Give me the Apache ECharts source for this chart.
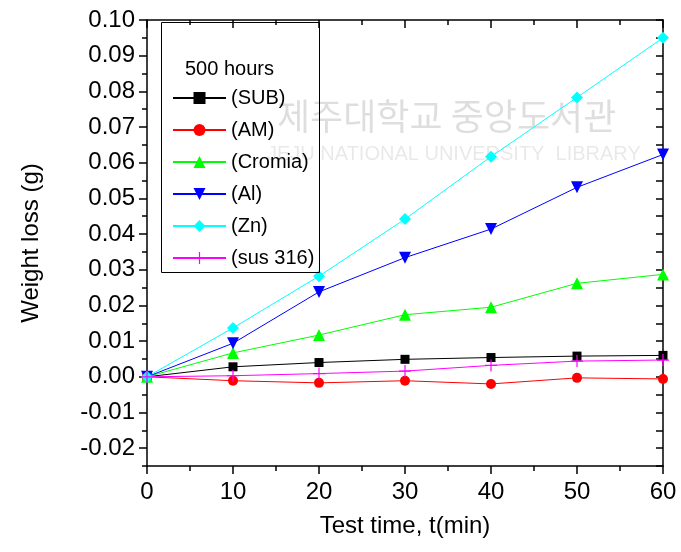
<!DOCTYPE html>
<html>
<head>
<meta charset="utf-8">
<script src="https://cdn.jsdelivr.net/npm/echarts@6/dist/echarts.min.js"></script>
<style>
  html, body { margin: 0; padding: 0; background: #fff; }
  #myChart { width: 681px; height: 552px; }
</style>
</head>
<body>
<div id="myChart"></div>
<script>
// test time (min)
const times = [0, 10, 20, 30, 40, 50, 60]
// weight loss (g)
const sub    = [0, 0.0028, 0.0040, 0.0049, 0.0054, 0.0058, 0.0060]
const am     = [0, -0.0011, -0.0017, -0.0011, -0.0020, -0.0003, -0.0006]
const cromia = [0, 0.0067, 0.0117, 0.0174, 0.0195, 0.0262, 0.0287]
const al     = [0, 0.0094, 0.0238, 0.0334, 0.0414, 0.0531, 0.0623]
const zn     = [0, 0.0137, 0.0282, 0.0442, 0.0617, 0.0783, 0.0950]
const sus316 = [0, 0.0003, 0.0009, 0.0016, 0.0032, 0.0044, 0.0047]
const yLabels = [-0.02, -0.01, 0, 0.01, 0.02, 0.03, 0.04, 0.05, 0.06, 0.07, 0.08, 0.09, 0.10]

const font = 'Liberation Sans, Arial, sans-serif'
const plus = 'path://M4.5,0H5.5V4.5H10V5.5H5.5V10H4.5V5.5H0V4.5H4.5Z'

function pairs(vals) {
    return times.map((t, i) => [t, vals[i]])
}

function mk(name, vals, color, symbol, size, rotate) {
    return {
        name: name,
        type: 'line',
        data: pairs(vals),
        symbol: symbol,
        symbolSize: size,
        symbolRotate: rotate || 0,
        showSymbol: true,
        lineStyle: { color: color, width: 1 },
        itemStyle: { color: color },
        animation: false
    }
}

const blackAxis = { show: true, onZero: false, lineStyle: { color: '#000', width: 1.5 } }

let myChart = echarts.init(document.getElementById('myChart'))
myChart.setOption({
    backgroundColor: '#fff',
    animation: false,
    textStyle: { fontFamily: font },
    grid: { left: 147, right: 18, top: 20, bottom: 86 },
    graphic: [
        {
            type: 'text', left: 277, top: 98, z: 0, silent: true,
            style: { text: '제주대학교 중앙도서관', font: '36px "Noto Sans CJK KR"', fill: 'rgba(0,0,0,0.13)' }
        },
        {
            type: 'text', left: 267, top: 144, z: 0, silent: true,
            style: { text: 'JEJU NATIONAL UNIVERSITY  LIBRARY', font: '20px ' + font, fill: 'rgba(0,0,0,0.09)' }
        },
        {
            type: 'rect', left: 159, top: 20, z: 5, silent: true,
            shape: { width: 158, height: 250 },
            style: { fill: null, stroke: '#000', lineWidth: 1 }
        },
        {
            type: 'text', left: 185, top: 59, z: 5,
            style: { text: '500 hours', font: '20px ' + font, fill: '#000' }
        }
    ],
    legend: {
        orient: 'vertical',
        left: 172,
        top: 88,
        padding: 0,
        itemWidth: 53,
        itemHeight: 15,
        itemGap: 12,
        textStyle: { fontSize: 20, color: '#000', fontFamily: font },
        data: ['(SUB)', '(AM)', '(Cromia)', '(Al)', '(Zn)', '(sus 316)']
    },
    xAxis: [
        {
            type: 'value', position: 'bottom', min: 0, max: 60, interval: 10,
            name: 'Test time, t(min)', nameLocation: 'middle', nameGap: 48,
            nameTextStyle: { fontSize: 24, color: '#000', fontFamily: font },
            axisLine: blackAxis,
            axisTick: { show: true, inside: false, length: 8, lineStyle: { color: '#000', width: 1.5 } },
            minorTick: { show: true, splitNumber: 2, length: 5, lineStyle: { color: '#000', width: 1.5 } },
            axisLabel: { fontSize: 24, color: '#000', margin: 14, fontFamily: font },
            splitLine: { show: false }
        },
        {
            type: 'value', position: 'top', min: 0, max: 60, interval: 10,
            axisLine: blackAxis,
            axisTick: { show: true, inside: true, length: 8, lineStyle: { color: '#000', width: 1.5 } },
            minorTick: { show: true, splitNumber: 2, length: 5, lineStyle: { color: '#000', width: 1.5 } },
            axisLabel: { show: false },
            splitLine: { show: false }
        }
    ],
    yAxis: [
        {
            type: 'value', position: 'left', min: -0.025, max: 0.1, interval: 0.005,
            name: 'Weight loss (g)', nameLocation: 'middle', nameGap: 104, nameRotate: 90,
            nameTextStyle: { fontSize: 24, color: '#000', fontFamily: font },
            axisLine: blackAxis,
            axisTick: { show: true, inside: false, length: 5, lineStyle: { color: '#000', width: 1.5 } },
            axisLabel: {
                fontSize: 24, color: '#000', margin: 12, fontFamily: font,
                formatter: function (v) {
                    let k = Math.round(v * 1000)
                    return k % 10 === 0 ? (k / 1000).toFixed(2) : ''
                }
            },
            splitLine: { show: false }
        },
        {
            type: 'value', position: 'left', min: -0.025, max: 0.1,
            axisLine: { show: false, onZero: false },
            axisTick: { show: true, inside: false, length: 8, customValues: yLabels, lineStyle: { color: '#000', width: 1.5 } },
            axisLabel: { show: false },
            splitLine: { show: false }
        },
        {
            type: 'value', position: 'right', min: -0.025, max: 0.1, interval: 0.005,
            axisLine: blackAxis,
            axisTick: { show: true, inside: true, length: 7, lineStyle: { color: '#000', width: 1.5 } },
            axisLabel: { show: false },
            splitLine: { show: false }
        }
    ],
    series: [
        mk('(SUB)', sub, '#000000', 'rect', 9),
        mk('(AM)', am, '#ff0000', 'circle', 10),
        mk('(Cromia)', cromia, '#00ff00', 'triangle', 12),
        mk('(Al)', al, '#0000ff', 'triangle', 12, 180),
        mk('(Zn)', zn, '#00ffff', 'diamond', 12),
        mk('(sus 316)', sus316, '#ff00ff', plus, 12)
    ]
})
</script>
</body>
</html>
